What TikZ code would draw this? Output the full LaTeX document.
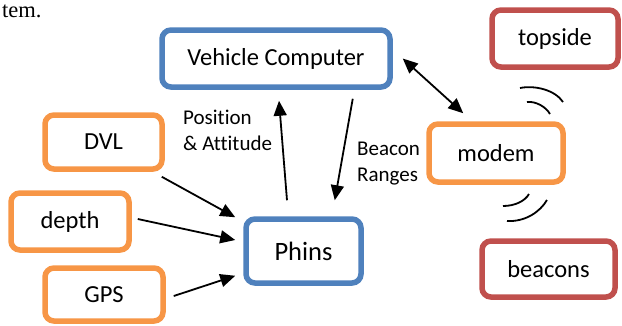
\documentclass[tikz,border=0pt]{standalone}
\usepackage{fontspec}
\setmainfont{Carlito}[Ligatures=NoCommon]
\newfontfamily\bodyfont{Liberation Serif}
\usetikzlibrary{arrows.meta}

\definecolor{boxblue}{HTML}{4F81BD}
\definecolor{boxorange}{HTML}{F79646}
\definecolor{boxred}{HTML}{C0504D}

\begin{document}
\begin{tikzpicture}[x=1pt,y=-1pt,
	box/.style={draw=#1,line width=5.5pt,rounded corners=9pt,fill=white,minimum width=118pt,minimum height=57pt,font=\fontsize{24.5}{28}\selectfont},
	arr/.style={line width=1.8pt,-{Triangle[length=15pt,width=13pt]}},
	lbl/.style={align=left,anchor=west,inner sep=0pt,font=\fontsize{21}{26}\selectfont},
	wave/.style={line width=1.8pt}]
	\useasboundingbox (0,0) rectangle (622,325);
	\node[anchor=base west,inner sep=0pt,font=\bodyfont\fontsize{22.5}{26}\selectfont] (captail) at (2,17) {tem.};
	\node[box=boxblue,minimum width=228pt] (computer) at (276,58.5) {Vehicle Computer};
	\node[box=boxred,minimum width=126pt] (topside) at (555,38.5) {topside};
	\node[box=boxorange,minimum width=134pt,minimum height=58pt] (modem) at (496,153) {modem};
	\node[box=boxred,minimum width=133pt,minimum height=56pt] (beacons) at (548.5,269) {beacons};
	\node[box=boxblue,minimum width=115pt,minimum height=64pt,font=\fontsize{26.5}{30}\selectfont] (phins) at (303.5,251) {Phins};
	\node[box=boxorange,minimum width=117pt,minimum height=54pt] (dvl) at (103.5,142) {DVL};
	\node[box=boxorange] (depth) at (70,221.5) {depth};
	\node[box=boxorange,minimum height=53pt] (gps) at (104,294.5) {GPS};
	% sensors into phins
	\draw[arr] ([shift={(-3,5)}]dvl.south east) -- ([shift={(-8,1)}]phins.north west);
	\draw[arr] ([shift={(6,-2.5)}]depth.east) -- ([shift={(-8,-11)}]phins.west);
	\draw[arr] ([shift={(8,1.5)}]gps.east) -- ([shift={(-8,-10)}]phins.south west);
	% phins and vehicle computer
	\draw[arr] ([shift={(-16.5,-16)}]phins.north) -- ([shift={(3,11)}]computer.south);
	\draw[arr] ([shift={(-40,9)}]computer.south east) -- ([shift={(-29,-16)}]phins.north east);
	\draw[line width=1.8pt,{Triangle[length=15pt,width=13pt]}-{Triangle[length=15pt,width=13pt]}] ([shift={(10,0)}]computer.east) -- ([shift={(37,-8)}]modem.north west);
	\node[lbl] (posatt) at (183,130) {Position\\\& Attitude};
	\node[lbl] (ranges) at (357,164) {Beacon\\Ranges};
	% acoustic waves
	\draw[wave] (520,88) .. controls (535,85) and (555,90) .. (563,102);
	\draw[wave] (527,102) .. controls (536,101) and (546,107) .. (550,114);
	\draw[wave] (503,206) .. controls (515,206) and (525,201) .. (529,194);
	\draw[wave] (507,221) .. controls (525,222) and (540,212) .. (547,200);
\end{tikzpicture}
\end{document}
